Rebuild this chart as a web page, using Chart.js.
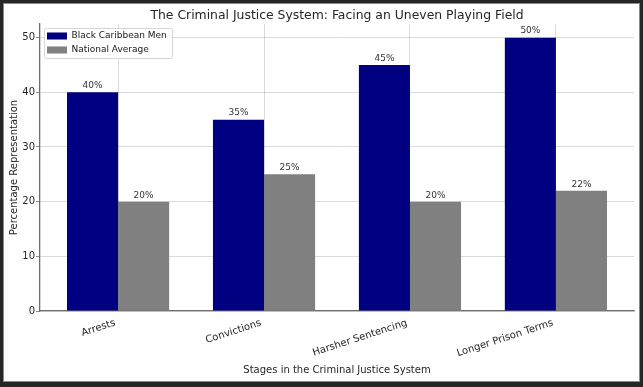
<!DOCTYPE html>
<html>
<head>
<meta charset="utf-8">
<script src="https://cdn.jsdelivr.net/npm/chart.js@4.4.0/dist/chart.umd.min.js"></script>
<style>
  html, body { margin: 0; padding: 0; background: #262626; }
  #wrap { width: 643px; height: 387px; }
</style>
</head>
<body>
<div id="wrap"><canvas id="chart" width="643" height="387"></canvas></div>
<script>
(function(){
  const stages = ['Arrests', 'Convictions', 'Harsher Sentencing', 'Longer Prison Terms'];
  const blackCaribbeanMen = [40, 35, 45, 50];
  const nationalAverage = [20, 25, 20, 22];
  const yTicks = [0, 10, 20, 30, 40, 50];

  const font = "'DejaVu Sans', sans-serif";
  const textColor = '#262626';

  function toPoints(values) {
    return values.map((v, i) => ({x: i, y: v}));
  }

  // dark frame round the white picture, and the legend moved into the plot
  const framePlugin = {
    id: 'frame',
    beforeDraw(chart) {
      const ctx = chart.ctx;
      ctx.save();
      ctx.fillStyle = '#262626';
      ctx.fillRect(0, 0, chart.width, chart.height);
      ctx.fillStyle = '#ffffff';
      ctx.fillRect(3, 3, 637, 379);
      ctx.strokeStyle = '#8a8a8a';
      ctx.lineWidth = 1;
      ctx.strokeRect(3.5, 3.5, 636, 378);
      ctx.restore();

      const lg = chart.legend;
      const h = lg.height, w = lg.width;
      lg.left = chart.chartArea.left + 2;
      lg.top = chart.chartArea.top + 2.5;
      lg.right = lg.left + w;
      lg.bottom = lg.top + h;
    }
  };

  // value labels above bars, then the legend frame drawn over the grid
  const labelPlugin = {
    id: 'barLabels',
    afterDatasetsDraw(chart) {
      const ctx = chart.ctx;
      ctx.save();
      ctx.font = '9px ' + font;
      ctx.fillStyle = '#333333';
      ctx.textAlign = 'center';
      ctx.textBaseline = 'bottom';
      chart.data.datasets.forEach((ds, di) => {
        chart.getDatasetMeta(di).data.forEach((bar, i) => {
          ctx.fillText(ds.data[i].y + '%', bar.x, bar.y - 2);
        });
      });

      const lg = chart.legend;
      const x = lg.left + 2, y = lg.top + 1.5;
      const w = 128, h = 30;
      ctx.fillStyle = 'rgba(255,255,255,0.9)';
      ctx.strokeStyle = '#d5d5d5';
      ctx.lineWidth = 1;
      ctx.beginPath();
      ctx.roundRect(x + 0.5, y + 0.5, w, h, 2);
      ctx.fill();
      ctx.stroke();
      ctx.restore();
      lg.draw();
    }
  };

  new Chart(document.getElementById('chart'), {
    type: 'bar',
    data: {
      datasets: [{
        label: 'Black Caribbean Men',
        data: toPoints(blackCaribbeanMen),
        backgroundColor: '#000080',
        borderWidth: 0
      }, {
        label: 'National Average',
        data: toPoints(nationalAverage),
        backgroundColor: '#808080',
        borderWidth: 0
      }]
    },
    plugins: [framePlugin, labelPlugin],
    options: {
      responsive: false,
      devicePixelRatio: 1,
      animation: false,
      events: [],
      categoryPercentage: 0.7,
      barPercentage: 1.0,
      layout: { padding: { left: 3, right: 9, top: 3, bottom: 5 } },
      plugins: {
        title: {
          display: true,
          text: 'The Criminal Justice System: Facing an Uneven Playing Field',
          fullSize: false,
          color: textColor,
          font: { family: font, size: 12.4, weight: 'normal' },
          padding: { top: 5, bottom: 1.1 }
        },
        legend: {
          position: 'chartArea',
          align: 'start',
          labels: {
            font: { family: font, size: 9 },
            color: textColor,
            boxWidth: 20,
            boxHeight: 7,
            padding: 5
          }
        },
        tooltip: { enabled: false }
      },
      scales: {
        x: {
          type: 'linear',
          offset: false,
          min: -0.535,
          max: 3.535,
          afterBuildTicks: (scale) => { scale.ticks = stages.map((s, i) => ({value: i})); },
          afterFit: (scale) => { scale.height = 71; },
          ticks: {
            callback: (v) => stages[v],
            minRotation: 18,
            maxRotation: 18,
            padding: 6,
            labelOffset: -3,
            color: textColor,
            font: { family: font, size: 10 }
          },
          grid: {
            offset: false,
            color: 'rgba(0,0,0,0.18)',
            borderDash: [1.5, 2],
            lineWidth: 0.8,
            drawTicks: false
          },
          border: { color: '#6e6e6e', width: 1.3 },
          title: {
            display: true,
            text: 'Stages in the Criminal Justice System',
            color: textColor,
            font: { family: font, size: 10 },
            padding: { top: 0, bottom: 6 }
          }
        },
        y: {
          min: 0,
          max: 52.5,
          afterBuildTicks: (scale) => { scale.ticks = yTicks.map(v => ({value: v})); },
          afterFit: (scale) => { scale.width = 37; },
          ticks: {
            padding: 1,
            color: textColor,
            font: { family: font, size: 10 }
          },
          grid: {
            color: 'rgba(0,0,0,0.18)',
            borderDash: [1.5, 2],
            lineWidth: 0.8,
            tickLength: 4,
            tickColor: '#6e6e6e',
            tickBorderDash: []
          },
          border: { color: '#6e6e6e', width: 1.3 },
          title: {
            display: true,
            text: 'Percentage Representation',
            color: textColor,
            font: { family: font, size: 10 },
            padding: { top: 5, bottom: 0 }
          }
        }
      }
    }
  });
})();
</script>
</body>
</html>
